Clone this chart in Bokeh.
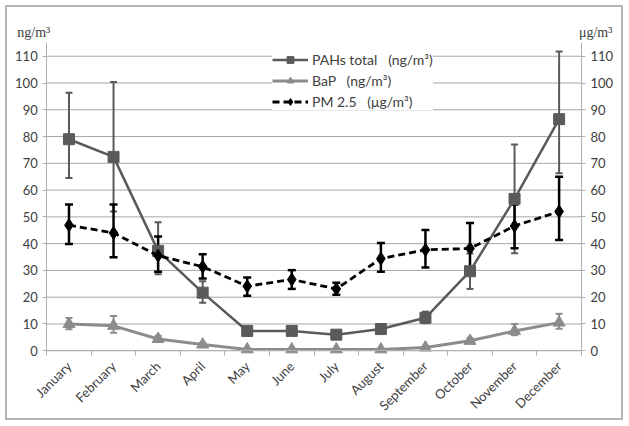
import math
from bokeh.plotting import figure
from bokeh.models import (Range1d, LinearAxis, FixedTicker, Whisker, ColumnDataSource,
                          Legend, LegendItem, Label, TeeHead)
from bokeh.embed import file_html
from bokeh.resources import INLINE

# ---------------- data ----------------
months = ["January", "February", "March", "April", "May", "June", "July",
          "August", "September", "October", "November", "December"]

pahs = [79.0, 72.4, 37.3, 21.7, 7.4, 7.4, 6.0, 8.1, 12.3, 29.7, 56.7, 86.5]
pahs_upper = [96.4, 100.4, 48.0, 26.0, 8.2, 8.2, 6.8, 9.0, 14.6, 36.3, 77.0, 111.8]
pahs_lower = [64.5, 52.0, 28.6, 17.9, 6.6, 6.6, 5.2, 7.2, 10.3, 23.1, 36.4, 66.3]

bap = [10.0, 9.3, 4.4, 2.3, 0.5, 0.5, 0.5, 0.5, 1.2, 3.7, 7.4, 10.5]
bap_upper = [12.2, 13.0, 5.6, 3.0, 0.8, 0.8, 0.8, 0.8, 1.8, 4.8, 10.0, 13.8]
bap_lower = [8.0, 6.7, 3.3, 1.8, 0.3, 0.3, 0.3, 0.3, 0.7, 2.6, 5.8, 8.2]

pm25 = [46.9, 44.0, 35.5, 31.4, 24.1, 26.6, 23.1, 34.4, 37.7, 38.2, 46.6, 52.0]
pm25_upper = [54.6, 54.6, 42.7, 36.0, 27.4, 30.1, 25.4, 40.2, 45.1, 47.7, 54.6, 65.0]
pm25_lower = [39.9, 34.9, 29.5, 27.0, 20.5, 23.1, 20.9, 29.5, 31.1, 30.4, 38.3, 41.4]

y_ticks = [0, 10, 20, 30, 40, 50, 60, 70, 80, 90, 100, 110]
y_axis_max = 115
series_labels = ["PAHs total   (ng/m³)", "BaP   (ng/m³)", "PM 2.5   (μg/m³)"]
left_unit = "ng/m³"
right_unit = "μg/m³"

# ---------------- styles ----------------
PAH_C = "#5a5a5a"
BAP_C = "#8c8c8c"
PM_C = "#000000"
GRID_C = "#a6a6a6"
AXIS_C = "#b0b0b0"
TEXT_C = "#404040"
SANS = "Lato"
SERIF = "Liberation Serif"

n = len(months)
xs = [i + 0.5 for i in range(n)]
src = ColumnDataSource(dict(
    x=xs, pah=pahs, pah_up=pahs_upper, pah_lo=pahs_lower,
    bap=bap, bap_up=bap_upper, bap_lo=bap_lower,
    pm=pm25, pm_up=pm25_upper, pm_lo=pm25_lower,
))

# The frame spans the whole canvas (axes are placed with fixed_location) so that
# the unit texts, legend and tick labels outside the plotting area are not clipped.
p = figure(width=618, height=415, x_range=Range1d(-0.88, n + 0.99), y_range=Range1d(-26.8, 128.2),
           output_backend="svg", toolbar_location=None, title=None,
           x_axis_type=None, y_axis_type=None,
           min_border_left=0, min_border_right=0, min_border_top=0, min_border_bottom=0)
p.outline_line_color = None
p.background_fill_color = "white"
p.border_fill_color = "white"
p.styles = {"border": "2px solid #b4b4b4", "margin": "5px 0 0 5px"}

# ---------------- gridlines (only across the category span) ----------------
p.segment(x0=0, x1=n, y0="y", y1="y", source=ColumnDataSource(dict(y=y_ticks)),
          line_color=GRID_C, line_width=1, level="underlay")

# ---------------- axes ----------------
yticker = FixedTicker(ticks=y_ticks)
for side, loc in (("left", 0), ("right", n)):
    ax = LinearAxis(ticker=yticker, bounds=(0, y_axis_max), fixed_location=loc)
    ax.axis_line_color = AXIS_C
    ax.major_tick_line_color = AXIS_C
    ax.major_tick_out = 4
    ax.major_tick_in = 0
    ax.minor_tick_line_color = None
    ax.major_label_text_font = SANS
    ax.major_label_text_font_size = "13px"
    ax.major_label_text_color = TEXT_C
    ax.major_label_standoff = 5
    p.add_layout(ax, side)

xticker = FixedTicker(ticks=xs, minor_ticks=list(range(n + 1)))
xax = LinearAxis(ticker=xticker, bounds=(0, n), fixed_location=0)
xax.major_label_overrides = {x: m for x, m in zip(xs, months)}
xax.axis_line_color = AXIS_C
xax.major_tick_line_color = None
xax.major_tick_out = 4
xax.minor_tick_line_color = AXIS_C
xax.minor_tick_out = 5
xax.minor_tick_in = 0
xax.major_label_orientation = math.pi / 4
xax.major_label_text_font = SANS
xax.major_label_text_font_size = "13px"
xax.major_label_text_color = TEXT_C
xax.major_label_standoff = 8
p.add_layout(xax, "below")

# ---------------- error bars ----------------
def whisker(up, lo, color, width, size):
    w = Whisker(source=src, base="x", upper=up, lower=lo, line_color=color, line_width=width,
                upper_head=TeeHead(size=size, line_color=color, line_width=width),
                lower_head=TeeHead(size=size, line_color=color, line_width=width))
    p.add_layout(w)

whisker("pah_up", "pah_lo", PAH_C, 2, 7)
whisker("bap_up", "bap_lo", BAP_C, 2, 7)
whisker("pm_up", "pm_lo", PM_C, 2.5, 8)

# ---------------- series ----------------
pah_l = p.line("x", "pah", source=src, line_color=PAH_C, line_width=2.5)
pah_m = p.scatter("x", "pah", source=src, marker="square", size=11,
                  fill_color=PAH_C, line_color=PAH_C)
bap_l = p.line("x", "bap", source=src, line_color=BAP_C, line_width=3)
bap_m = p.scatter("x", "bap", source=src, marker="triangle", size=12,
                  fill_color=BAP_C, line_color=BAP_C)
pm_l = p.line("x", "pm", source=src, line_color=PM_C, line_width=2.8, line_dash="7 4")
pm_m = p.scatter("x", "pm", source=src, marker="diamond", size=13,
                 fill_color=PM_C, line_color=PM_C)

legend = Legend(items=[
    LegendItem(label=series_labels[0], renderers=[pah_l, pah_m]),
    LegendItem(label=series_labels[1], renderers=[bap_l, bap_m]),
    LegendItem(label=series_labels[2], renderers=[pm_l, pm_m]),
], location=(265, 312), glyph_width=36, glyph_height=17, label_height=17, spacing=4,
    padding=4, margin=0, label_standoff=4, background_fill_color="white",
    background_fill_alpha=1, border_line_color=None,
    label_text_font=SANS, label_text_font_size="14px", label_text_color=TEXT_C)
p.add_layout(legend)

# axis unit annotations
for text, x in ((left_unit, -0.29), (right_unit, n + 0.32)):
    p.add_layout(Label(x=x, y=118.7, text=text, text_font=SERIF, text_font_size="14px",
                       text_color=TEXT_C, text_align="center", text_baseline="middle"))

open("out.html", "w").write(file_html(p, INLINE))
